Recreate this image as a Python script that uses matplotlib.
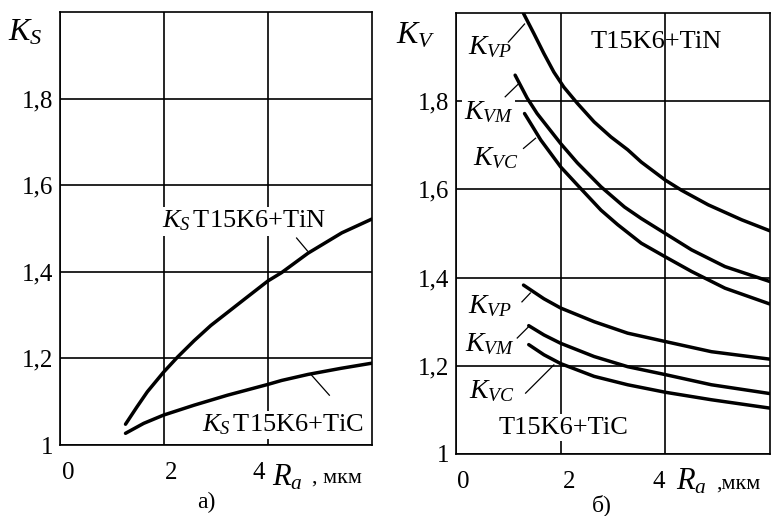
import matplotlib
matplotlib.use("Agg")
import matplotlib.pyplot as plt
from matplotlib.transforms import ScaledTranslation

plt.rcParams['font.family'] = ['Liberation Serif', 'DejaVu Serif']
plt.rcParams['mathtext.fontset'] = 'custom'
plt.rcParams['mathtext.it'] = 'Liberation Serif:italic'
plt.rcParams['mathtext.rm'] = 'Liberation Serif'
plt.rcParams['mathtext.cal'] = 'Liberation Serif:italic'

# ---------------- data ----------------
# panel а) K_S vs Ra
ra_ks_tin = [1.26, 1.48, 1.68, 1.99, 2.26, 2.58, 2.9, 3.22, 3.55, 4.0, 4.26, 4.77, 5.42, 6.0]
ks_tin = [1.048, 1.088, 1.123, 1.168, 1.203, 1.241, 1.276, 1.306, 1.337, 1.379, 1.398, 1.443, 1.49, 1.522]
ra_ks_tic = [1.26, 1.61, 1.99, 2.58, 3.22, 4.0, 4.26, 4.77, 5.4, 6.0]
ks_tic = [1.027, 1.05, 1.069, 1.092, 1.115, 1.14, 1.149, 1.163, 1.177, 1.189]

# panel б) K_V vs Ra, T15K6+TiN
ra_vp_tin = [1.29, 1.49, 1.68, 1.87, 2.06, 2.32, 2.64, 2.96, 3.28, 3.54, 4.0, 4.31, 4.82, 5.46, 6.0]
kvp_tin = [1.999, 1.953, 1.908, 1.866, 1.832, 1.795, 1.753, 1.719, 1.69, 1.662, 1.621, 1.598, 1.565, 1.531, 1.506]
ra_vm_tin = [1.13, 1.36, 1.55, 2.0, 2.32, 2.77, 3.22, 3.54, 4.0, 4.5, 5.14, 6.0]
kvm_tin = [1.859, 1.807, 1.772, 1.704, 1.66, 1.606, 1.56, 1.534, 1.5, 1.463, 1.425, 1.391]
ra_vc_tin = [1.31, 1.45, 1.62, 2.0, 2.32, 2.77, 3.09, 3.54, 4.0, 4.5, 5.14, 6.0]
kvc_tin = [1.772, 1.745, 1.712, 1.651, 1.61, 1.553, 1.52, 1.478, 1.447, 1.414, 1.376, 1.34]

# panel б) K_V vs Ra, T15K6+TiC
ra_vp_tic = [1.29, 1.68, 2.0, 2.64, 3.28, 4.0, 4.88, 6.0]
kvp_tic = [1.383, 1.352, 1.331, 1.30, 1.274, 1.255, 1.232, 1.215]
ra_vm_tic = [1.39, 1.68, 2.0, 2.64, 3.28, 4.0, 4.88, 6.0]
kvm_tic = [1.291, 1.27, 1.251, 1.221, 1.198, 1.18, 1.157, 1.137]
ra_vc_tic = [1.39, 1.68, 2.0, 2.64, 3.28, 4.0, 4.88, 6.0]
kvc_tic = [1.248, 1.225, 1.205, 1.176, 1.157, 1.14, 1.123, 1.104]

x_ticks = [0, 2, 4]
x_ticklabels = ['0', '2', '4']
y_ticks = [1.0, 1.2, 1.4, 1.6, 1.8]
y_ticklabels = ['1', '1,2', '1,4', '1,6', '1,8']

FS = 18      # tick labels
LFS = 19     # in-plot labels
LW = 2.5
GLW = 1.2

fig = plt.figure(figsize=(7.83, 5.16), dpi=100)
W, H = 783, 516


def make_ax(left, top, right, bottom):
    ax = fig.add_axes([left / W, 1 - bottom / H, (right - left) / W, (bottom - top) / H])
    ax.set_xlim(0, 6)
    ax.set_ylim(1.0, 2.0)
    ax.grid(True, color='black', linewidth=GLW, zorder=0)
    ax.set_xticks(x_ticks)
    ax.set_xticklabels(x_ticklabels, fontsize=FS)
    ax.set_yticks(y_ticks)
    ax.set_yticklabels(y_ticklabels, fontsize=FS)
    ax.tick_params(length=0)
    ax.tick_params(axis='y', pad=5)
    ax.tick_params(axis='x', pad=12)
    for s in ax.spines.values():
        s.set_linewidth(GLW)
    return ax


def shift_xlabels(ax, offsets):
    for lab, dx in zip(ax.get_xticklabels(), offsets):
        lab.set_transform(lab.get_transform() + ScaledTranslation(dx / 100, 0, fig.dpi_scale_trans))


box = dict(facecolor='white', edgecolor='none', pad=1.5)

# ---------------- panel а) ----------------
axa = make_ax(60, 12, 372, 445)
axa.plot(ra_ks_tin, ks_tin, color='black', lw=LW, zorder=3, solid_capstyle='round', solid_joinstyle='round')
axa.plot(ra_ks_tic, ks_tic, color='black', lw=LW, zorder=3, solid_capstyle='round', solid_joinstyle='round')
shift_xlabels(axa, [8, 7, -9])

axa.text(3.54, 1.517, r'$K_S\,$T15K6+TiN', fontsize=LFS, ha='center', va='center', bbox=box, zorder=4)
axa.text(4.29, 1.046, r'$K_S\,$T15K6+TiC', fontsize=LFS, ha='center', va='center', bbox=box, zorder=4)
axa.plot([4.55, 4.76], [1.478, 1.448], color='black', lw=0.9, zorder=3)
axa.plot([4.84, 5.18], [1.161, 1.115], color='black', lw=0.9, zorder=3)

fig.text(8 / W, 1 - 33 / H, r'$K_S$', fontsize=23, ha='left', va='center')
fig.text(272 / W, 1 - 478 / H, r'$R_a$', fontsize=22, ha='left', va='center')
fig.text(312 / W, 1 - 478 / H, ', мкм', fontsize=16, ha='left', va='center')
fig.text(206 / W, 1 - 502 / H, 'а)', fontsize=17, ha='center', va='center')

# ---------------- panel б) ----------------
axb = make_ax(456, 13, 770, 454)
for xs, ys in [(ra_vp_tin, kvp_tin), (ra_vm_tin, kvm_tin), (ra_vc_tin, kvc_tin),
               (ra_vp_tic, kvp_tic), (ra_vm_tic, kvm_tic), (ra_vc_tic, kvc_tic)]:
    axb.plot(xs, ys, color='black', lw=LW, zorder=3, solid_capstyle='round', solid_joinstyle='round')
shift_xlabels(axb, [7, 8, -7])

labels_b = [
    (0.65, 1.922, r'$K_{VP}$'), (0.62, 1.775, r'$K_{VM}$'), (0.77, 1.671, r'$K_{VC}$'),
    (0.65, 1.336, r'$K_{VP}$'), (0.65, 1.25, r'$K_{VM}$'), (0.69, 1.143, r'$K_{VC}$'),
]
for x, y, t in labels_b:
    axb.text(x, y, t, fontsize=LFS + 1, ha='center', va='center', bbox=box, zorder=4)

leaders_b = [
    ([1.0, 1.31], [1.934, 1.975]), ([0.94, 1.2], [1.81, 1.84]), ([1.29, 1.52], [1.693, 1.716]),
    ([1.26, 1.42], [1.345, 1.365]), ([1.17, 1.39], [1.263, 1.289]), ([1.33, 1.87], [1.138, 1.202]),
]
for xs, ys in leaders_b:
    axb.plot(xs, ys, color='black', lw=0.9, zorder=5)

axb.text(3.83, 1.934, 'T15K6+TiN', fontsize=LFS, ha='center', va='center', zorder=4)
axb.text(2.06, 1.06, 'T15K6+TiC', fontsize=LFS, ha='center', va='center', bbox=box, zorder=4)

fig.text(396 / W, 1 - 36 / H, r'$K_V$', fontsize=23, ha='left', va='center')
fig.text(676 / W, 1 - 482 / H, r'$R_a$', fontsize=22, ha='left', va='center')
fig.text(716 / W, 1 - 484 / H, ',мкм', fontsize=16, ha='left', va='center')
fig.text(602 / W, 1 - 505 / H, 'б)', fontsize=17, ha='center', va='center')

fig.savefig('out.png', dpi=100)
